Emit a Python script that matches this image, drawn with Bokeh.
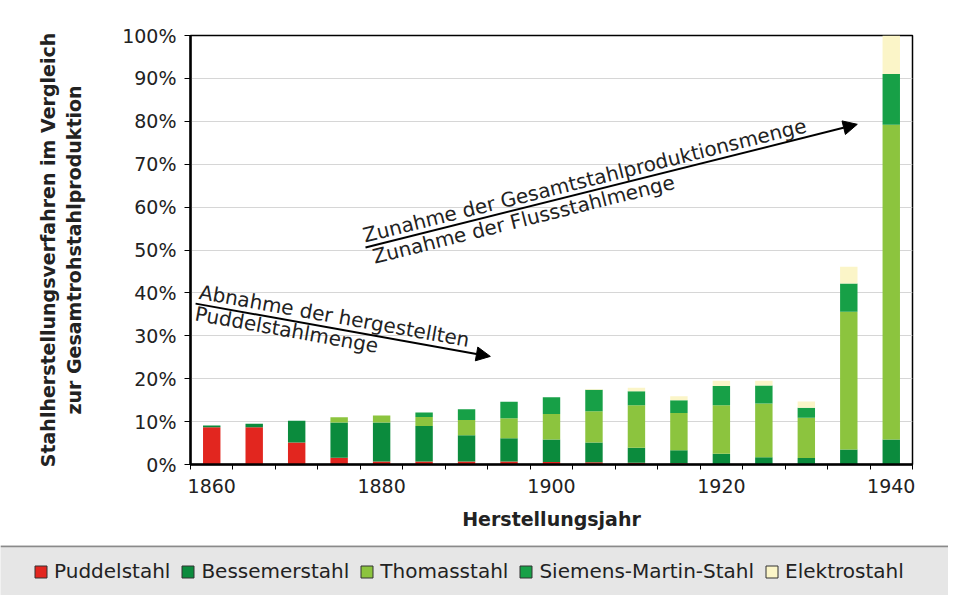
from bokeh.plotting import figure
from bokeh.models import (Range1d, FixedTicker, PrintfTickFormatter, Arrow, NormalHead,
                          Label, Legend, LegendItem, ColumnDataSource, Span)
from bokeh.layouts import column
from bokeh.embed import file_html
from bokeh.resources import INLINE

# ---------------- data (percent of total crude steel production) ----------------
years = [1860, 1865, 1870, 1875, 1880, 1885, 1890, 1895, 1900, 1905,
         1910, 1915, 1920, 1925, 1930, 1935, 1940]
puddelstahl = [8.7, 8.7, 5.1, 1.6, 0.7, 0.7, 0.7, 0.7, 0.6, 0.5, 0.4, 0.3, 0.1, 0.0, 0.0, 0.0, 0.0]
bessemerstahl = [0.4, 0.8, 5.1, 8.2, 9.1, 8.3, 6.1, 5.4, 5.2, 4.6, 3.5, 3.0, 2.4, 1.7, 1.5, 3.5, 5.8]
thomasstahl = [0.0, 0.0, 0.0, 1.2, 1.6, 2.1, 3.6, 4.7, 6.0, 7.3, 9.9, 8.7, 11.3, 12.5, 9.4, 32.1, 73.4]
siemens_martin = [0.0, 0.0, 0.0, 0.0, 0.0, 1.0, 2.5, 3.8, 3.9, 5.0, 3.3, 3.0, 4.5, 4.2, 2.3, 6.6, 11.8]
elektrostahl = [0.0, 0.0, 0.0, 0.0, 0.0, 0.0, 0.0, 0.0, 0.0, 0.2, 0.8, 0.9, 1.2, 1.1, 1.5, 3.9, 9.0]

series_names = ["Puddelstahl", "Bessemerstahl", "Thomasstahl", "Siemens-Martin-Stahl", "Elektrostahl"]
series_colors = ["#e2261f", "#0b8b3d", "#8cc43e", "#17a047", "#fbf5c8"]
x_tick_labels = [1860, 1880, 1900, 1920, 1940]
y_ticks = [0, 10, 20, 30, 40, 50, 60, 70, 80, 90, 100]

source = ColumnDataSource(dict(year=years,
                               Puddelstahl=puddelstahl,
                               Bessemerstahl=bessemerstahl,
                               Thomasstahl=thomasstahl,
                               **{"Siemens-Martin-Stahl": siemens_martin},
                               Elektrostahl=elektrostahl))

FONT = "DejaVu Sans"
TXT = "#222222"
W = 948

# ---------------- main chart ----------------
p = figure(width=W, height=545, x_range=Range1d(1857.5, 1942.5), y_range=Range1d(0, 100),
           toolbar_location=None, output_backend="svg",
           min_border_left=190, min_border_right=W - 912, min_border_top=35, min_border_bottom=81)
p.frame_align = False
p.background_fill_color = "white"
p.border_fill_color = "white"
p.outline_line_color = "black"
p.outline_line_width = 1.5

p.vbar_stack(series_names, x="year", width=2.05, color=series_colors, line_color=None, source=source)

# x axis
p.xaxis.ticker = FixedTicker(ticks=x_tick_labels,
                             minor_ticks=[years[0] - 2.5 + 5 * i for i in range(len(years) + 1)])
p.xaxis.major_tick_line_color = None
p.xaxis.major_tick_out = 0
p.xaxis.major_tick_in = 0
p.xaxis.minor_tick_out = 5
p.xaxis.minor_tick_in = 0
p.xaxis.minor_tick_line_color = "black"
p.xaxis.minor_tick_line_width = 1
p.xaxis.major_label_standoff = 9
p.xaxis.axis_label = "Herstellungsjahr"
p.xaxis.axis_label_standoff = 12

# y axis
p.yaxis.ticker = FixedTicker(ticks=y_ticks)
p.yaxis.formatter = PrintfTickFormatter(format="%d%%")
p.yaxis.minor_tick_line_color = None
p.yaxis.major_tick_out = 6
p.yaxis.major_tick_in = 0
p.yaxis.major_label_standoff = 8
p.yaxis.axis_label = "Stahlherstellungsverfahren im Vergleich\nzur Gesamtrohstahlproduktion"
p.yaxis.axis_label_standoff = 34

for ax in (p.xaxis, p.yaxis):
    ax.axis_line_color = "black"
    ax.axis_line_width = 2.5
    ax.major_label_text_font = FONT
    ax.major_label_text_font_size = "19px"
    ax.major_label_text_color = TXT
    ax.axis_label_text_font = FONT
    ax.axis_label_text_font_size = "19px"
    ax.axis_label_text_font_style = "bold"
    ax.axis_label_text_color = TXT

p.xgrid.grid_line_color = None
p.ygrid.grid_line_color = "#d6d6d6"
p.ygrid.grid_line_width = 1

# ---------------- trend arrows and their texts ----------------
p.add_layout(Arrow(end=NormalHead(size=14, fill_color="black", line_color="black"),
                   x_start=1878.1, y_start=50.6, x_end=1936.0, y_end=79.3,
                   line_color="black", line_width=2))
p.add_layout(Arrow(end=NormalHead(size=14, fill_color="black", line_color="black"),
                   x_start=1858.1, y_start=37.5, x_end=1892.8, y_end=25.2,
                   line_color="black", line_width=2))

up_angle = 0.2451
down_angle = -0.1767
p.add_layout(Label(x=1878.2, y=50.6, text="Zunahme der Gesamtstahlproduktionsmenge",
                   angle=up_angle, text_baseline="bottom", text_align="left",
                   x_offset=0, y_offset=0, text_font=FONT, text_font_size="20px", text_color=TXT))
p.add_layout(Label(x=1878.4, y=50.6, text="Zunahme der Flussstahlmenge",
                   angle=up_angle, text_baseline="top", text_align="left",
                   x_offset=2, y_offset=2, text_font=FONT, text_font_size="20px", text_color=TXT))
p.add_layout(Label(x=1858.3, y=37.5, text="Abnahme der hergestellten",
                   angle=down_angle, text_baseline="bottom", text_align="left",
                   x_offset=0, y_offset=0, text_font=FONT, text_font_size="20px", text_color=TXT))
p.add_layout(Label(x=1858.3, y=37.5, text="Puddelstahlmenge",
                   angle=down_angle, text_baseline="top", text_align="left",
                   x_offset=0, y_offset=2, text_font=FONT, text_font_size="20px", text_color=TXT))

# ---------------- legend band ----------------
lf = figure(width=W, height=50, x_range=Range1d(0, 1), y_range=Range1d(0, 1),
            toolbar_location=None, output_backend="svg", min_border=0,
            x_axis_type=None, y_axis_type=None)
lf.frame_align = False
lf.background_fill_color = "#e6e6e6"
lf.border_fill_color = "#e6e6e6"
lf.outline_line_color = None
lf.xgrid.visible = False
lf.ygrid.visible = False
legend_renderers = lf.vbar_stack(series_names, x="year", width=2, color=series_colors,
                                 line_color="#333333", line_width=1, source=source)
legend = Legend(items=[LegendItem(label=n, renderers=[r]) for n, r in zip(series_names, legend_renderers)],
                location=(33, 12), orientation="horizontal",
                glyph_width=15, glyph_height=15, label_height=15, label_standoff=6, spacing=10,
                padding=0, margin=0, border_line_color=None, background_fill_alpha=0,
                label_text_font=FONT, label_text_font_size="20px", label_text_color=TXT)
lf.add_layout(legend)
lf.add_layout(Span(location=0.985, dimension="width", line_color="#8a8a8a", line_width=2))

layout = column(p, lf, spacing=0)
open("out.html", "w").write(file_html(layout, INLINE))
